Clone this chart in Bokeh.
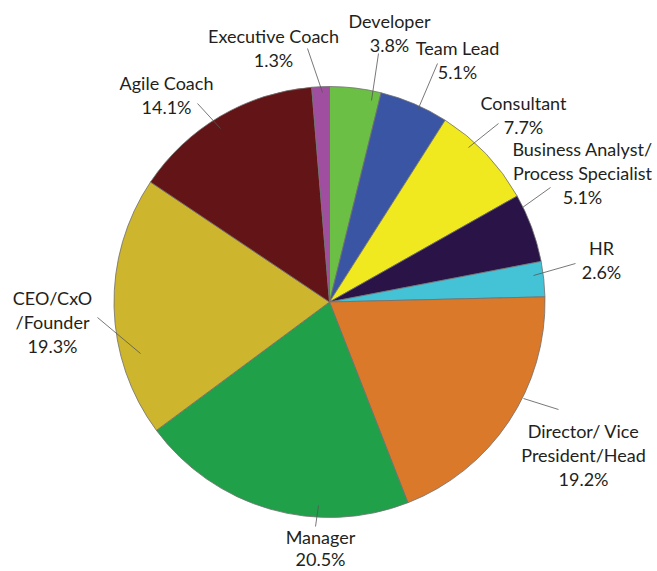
import numpy as np
from bokeh.plotting import figure
from bokeh.models import Range1d, ColumnDataSource
from bokeh.core.properties import value
from bokeh.embed import file_html
from bokeh.resources import INLINE

# ---- data ----
categories = ["Developer", "Team Lead", "Consultant", "Business Analyst/ Process Specialist",
              "HR", "Director/ Vice President/Head", "Manager", "CEO/CxO /Founder",
              "Agile Coach", "Executive Coach"]
percent = [3.8, 5.1, 7.7, 5.1, 2.6, 19.2, 20.5, 19.3, 14.1, 1.3]
colors = ["#6bbf45", "#3a55a4", "#f0e920", "#2a1447", "#45c3d6",
          "#db792b", "#21a04a", "#cdb52e", "#631416", "#a04fa0"]
label_lines = [["Developer", "3.8%"], ["Team Lead", "5.1%"], ["Consultant", "7.7%"],
               ["Business Analyst/", "Process Specialist", "5.1%"], ["HR", "2.6%"],
               ["Director/ Vice", "President/Head", "19.2%"], ["Manager", "20.5%"],
               ["CEO/CxO", "/Founder", "19.3%"], ["Agile Coach", "14.1%"],
               ["Executive Coach", "1.3%"]]

# ---- layout (page pixel coordinates) ----
W, H = 657, 571
CX, CY, R = 329, 301.5, 215.5
label_pos = [(389, 20), (457, 47), (523, 102), (582, 148), (601, 247),
             (583, 430), (320, 536), (52, 297), (166, 82), (273, 35)]
LINE_STEP = 24
line_steps = [24, 24, 24, 24, 24, 24, 22, 24, 24, 24]
leader = [((378, 53), (371, 100)), ((437, 63), (417, 110)), ((498, 123), (468, 147)),
          ((550, 187), (522, 207)), ((575, 263), (533, 275)), ((558, 409), (523, 398)),
          ((315, 526), (318, 505)), ((97, 317), (140, 353)), ((197, 103), (220, 128)),
          ((307, 48), (322, 92))]


def Y(yp):
    return H - yp


vals = np.array(percent, dtype=float)
frac = vals / vals.sum()
cum_end = np.cumsum(frac) * 2 * np.pi
cum_start = cum_end - frac * 2 * np.pi
start_angle = np.pi / 2 - cum_end
end_angle = np.pi / 2 - cum_start

p = figure(width=W, height=H, output_backend="svg", toolbar_location=None,
           x_range=Range1d(0, W), y_range=Range1d(0, H),
           min_border=0)
p.axis.visible = False
p.grid.visible = False
p.outline_line_color = None
p.background_fill_color = "white"

src = ColumnDataSource(dict(start=start_angle, end=end_angle, color=colors, cat=categories))
p.wedge(x=CX, y=Y(CY), radius=R, start_angle="start", end_angle="end",
        fill_color="color", line_color="#707070", line_width=0.8, source=src)

p.segment(x0=[a[0][0] for a in leader], y0=[Y(a[0][1]) for a in leader],
          x1=[a[1][0] for a in leader], y1=[Y(a[1][1]) for a in leader],
          line_color="#555555", line_width=0.8)

tx, ty, tt = [], [], []
for (lx, ly), lines, step in zip(label_pos, label_lines, line_steps):
    for i, t in enumerate(lines):
        tx.append(lx)
        ty.append(Y(ly + i * step))
        tt.append(t)
p.text(x=tx, y=ty, text=tt, text_align="center", text_baseline="middle",
       text_font=value("Lato"), text_font_size="18px", text_color="#231f20")

open("out.html", "w").write(file_html(p, INLINE))
